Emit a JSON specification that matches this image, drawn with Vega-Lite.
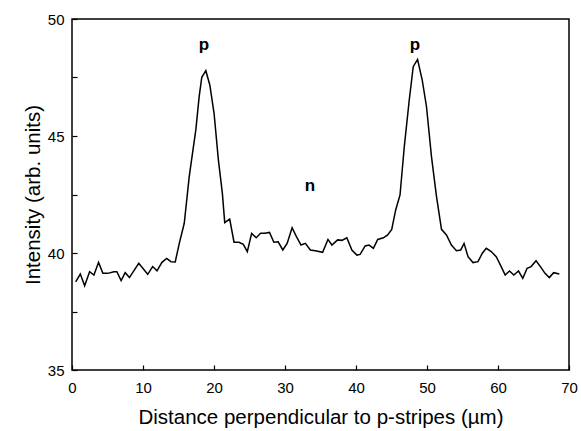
{
  "$schema": "https://vega.github.io/schema/vega-lite/v6.json",
  "width": 497,
  "height": 351,
  "autosize": {"type": "none"},
  "padding": {"left": 72, "top": 19, "right": 12, "bottom": 61},
  "background": "white",
  "config": {
    "view": {"stroke": "black", "strokeWidth": 1.5},
    "font": "Liberation Sans",
    "axis": {"labelFont": "Liberation Sans", "titleFont": "Liberation Sans", "labelColor": "black", "titleColor": "black", "titleFontWeight": "normal", "grid": false}
  },
  "datasets": {
    "profile": [
      {"x": 0.52, "y": 38.77}, {"x": 1.17, "y": 39.10}, {"x": 1.78, "y": 38.60}, {"x": 2.48, "y": 39.20},
      {"x": 3.09, "y": 39.06}, {"x": 3.74, "y": 39.60}, {"x": 4.35, "y": 39.13}, {"x": 5.05, "y": 39.13},
      {"x": 5.90, "y": 39.20}, {"x": 6.32, "y": 39.20}, {"x": 6.92, "y": 38.82}, {"x": 7.49, "y": 39.16},
      {"x": 8.09, "y": 38.95}, {"x": 9.40, "y": 39.56}, {"x": 10.66, "y": 39.09}, {"x": 11.36, "y": 39.42},
      {"x": 11.97, "y": 39.24}, {"x": 12.67, "y": 39.60}, {"x": 13.33, "y": 39.77}, {"x": 13.94, "y": 39.63},
      {"x": 14.54, "y": 39.62}, {"x": 15.11, "y": 40.41}, {"x": 15.81, "y": 41.27}, {"x": 16.51, "y": 43.26},
      {"x": 16.97, "y": 44.26}, {"x": 17.44, "y": 45.26}, {"x": 17.91, "y": 46.68}, {"x": 18.28, "y": 47.51},
      {"x": 18.85, "y": 47.79}, {"x": 19.41, "y": 47.18}, {"x": 20.01, "y": 45.97}, {"x": 20.62, "y": 43.97},
      {"x": 21.18, "y": 42.55}, {"x": 21.51, "y": 41.30}, {"x": 22.21, "y": 41.45}, {"x": 22.82, "y": 40.46},
      {"x": 23.52, "y": 40.46}, {"x": 24.13, "y": 40.37}, {"x": 24.69, "y": 40.06}, {"x": 25.30, "y": 40.84},
      {"x": 25.95, "y": 40.65}, {"x": 26.56, "y": 40.84}, {"x": 27.17, "y": 40.84}, {"x": 27.82, "y": 40.88},
      {"x": 28.43, "y": 40.46}, {"x": 29.04, "y": 40.48}, {"x": 29.69, "y": 40.13}, {"x": 30.30, "y": 40.41},
      {"x": 31.00, "y": 41.08}, {"x": 31.61, "y": 40.70}, {"x": 32.26, "y": 40.34}, {"x": 32.87, "y": 40.41},
      {"x": 33.57, "y": 40.13}, {"x": 34.27, "y": 40.10}, {"x": 35.30, "y": 40.03}, {"x": 36.05, "y": 40.58},
      {"x": 36.61, "y": 40.34}, {"x": 37.41, "y": 40.56}, {"x": 38.01, "y": 40.54}, {"x": 38.71, "y": 40.65},
      {"x": 39.42, "y": 40.13}, {"x": 40.12, "y": 39.91}, {"x": 40.58, "y": 39.94}, {"x": 41.29, "y": 40.30},
      {"x": 41.85, "y": 40.34}, {"x": 42.45, "y": 40.20}, {"x": 43.06, "y": 40.58}, {"x": 43.86, "y": 40.65},
      {"x": 44.46, "y": 40.77}, {"x": 45.03, "y": 41.01}, {"x": 45.59, "y": 41.84}, {"x": 46.20, "y": 42.48},
      {"x": 46.80, "y": 44.54}, {"x": 47.50, "y": 46.54}, {"x": 48.06, "y": 47.96}, {"x": 48.67, "y": 48.27},
      {"x": 49.33, "y": 47.39}, {"x": 49.93, "y": 46.25}, {"x": 50.63, "y": 44.12}, {"x": 51.34, "y": 42.41},
      {"x": 52.04, "y": 41.01}, {"x": 52.74, "y": 40.77}, {"x": 53.44, "y": 40.34}, {"x": 54.14, "y": 40.10},
      {"x": 54.75, "y": 40.13}, {"x": 55.22, "y": 40.41}, {"x": 55.78, "y": 39.84}, {"x": 56.48, "y": 39.59},
      {"x": 57.18, "y": 39.63}, {"x": 57.79, "y": 39.99}, {"x": 58.35, "y": 40.20}, {"x": 59.05, "y": 40.06},
      {"x": 59.75, "y": 39.84}, {"x": 60.45, "y": 39.42}, {"x": 61.01, "y": 39.06}, {"x": 61.62, "y": 39.23},
      {"x": 62.23, "y": 39.06}, {"x": 62.89, "y": 39.23}, {"x": 63.49, "y": 38.92}, {"x": 64.10, "y": 39.35},
      {"x": 64.66, "y": 39.42}, {"x": 65.36, "y": 39.67}, {"x": 65.97, "y": 39.42}, {"x": 66.62, "y": 39.13},
      {"x": 67.23, "y": 38.95}, {"x": 67.84, "y": 39.16}, {"x": 68.64, "y": 39.10}
    ],
    "labels": [
      {"x": 18.6, "y": 48.9, "label": "p"},
      {"x": 48.3, "y": 48.9, "label": "p"},
      {"x": 33.5, "y": 42.86, "label": "n"}
    ]
  },
  "layer": [
    {
      "data": {"name": "profile"},
      "mark": {"type": "line", "color": "black", "strokeWidth": 1.5},
      "encoding": {
        "x": {"field": "x", "type": "quantitative", "scale": {"domain": [0, 70], "nice": false, "zero": false},
          "axis": {"orient": "bottom", "title": "Distance perpendicular to p-stripes (µm)", "zindex": 1,
            "offset": -5, "domain": false,
            "values": [0, 5, 10, 15, 20, 25, 30, 35, 40, 45, 50, 55, 60, 65, 70],
            "labelExpr": "datum.value % 10 == 0 ? datum.label : ''",
            "ticks": true, "tickSize": 5, "tickColor": "black", "tickWidth": 1.2,
            "labelFontSize": 15, "titleFontSize": 20.5, "labelPadding": 10, "titlePadding": 12, "labelFlush": false}},
        "y": {"field": "y", "type": "quantitative", "scale": {"domain": [35, 50], "nice": false, "zero": false},
          "axis": {"orient": "left", "title": "Intensity (arb. units)", "zindex": 1,
            "offset": -5, "domain": false,
            "values": [35, 37.5, 40, 42.5, 45, 47.5, 50],
            "labelExpr": "datum.value % 5 == 0 ? datum.label : ''",
            "ticks": true, "tickSize": 5, "tickColor": "black", "tickWidth": 1.2,
            "labelFontSize": 15, "titleFontSize": 20.5, "labelPadding": 8, "titlePadding": 4, "labelFlush": false}}
      }
    },
    {
      "data": {"name": "labels"},
      "mark": {"type": "text", "font": "Liberation Sans", "fontSize": 17, "fontWeight": "bold", "color": "black"},
      "encoding": {
        "x": {"field": "x", "type": "quantitative"},
        "y": {"field": "y", "type": "quantitative"},
        "text": {"field": "label"}
      }
    }
  ]
}
